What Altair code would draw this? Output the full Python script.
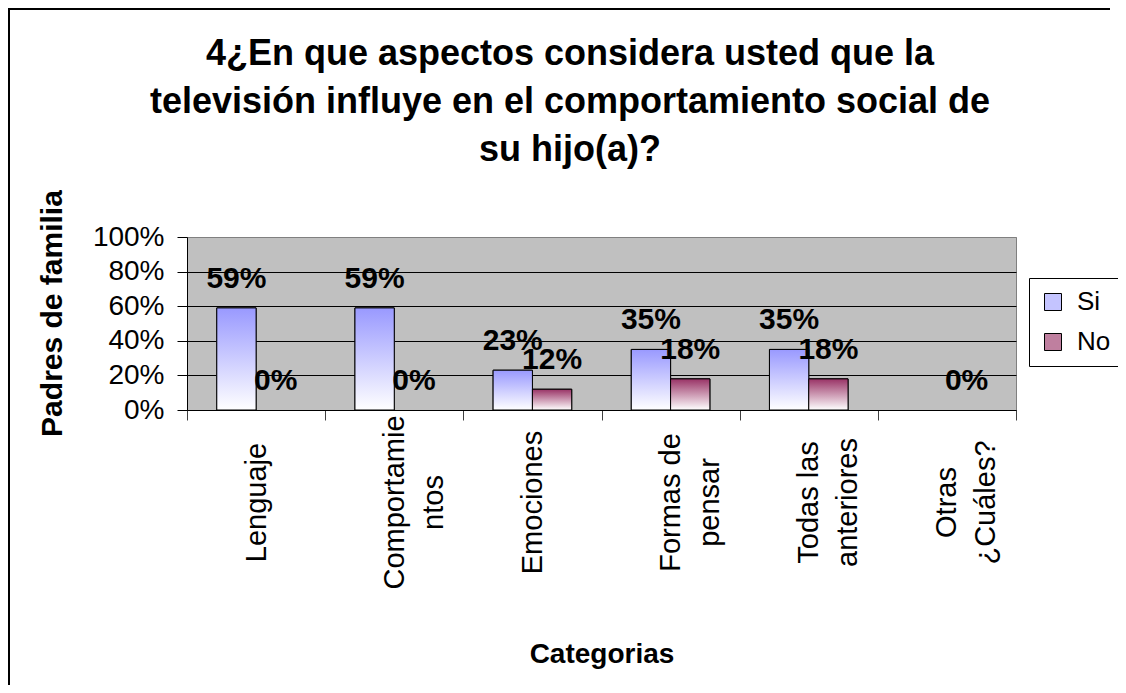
import altair as alt
import pandas as pd

# ---- data ----
categorias = [
    "Lenguaje",
    "Comportamie\nntos",
    "Emociones",
    "Formas de\npensar",
    "Todas las\nanteriores",
    "Otras\n¿Cuáles?",
]
series = ["Si", "No"]
si_vals = [0.59, 0.59, 0.23, 0.35, 0.35, None]
no_vals = [0.00, 0.00, 0.12, 0.18, 0.18, 0.00]
titulo = [
    "4¿En que aspectos considera usted que la",
    "televisión influye en el comportamiento social de",
    "su hijo(a)?",
]
y_ticks = [0, 0.2, 0.4, 0.6, 0.8, 1.0]

rows = []
for c, s, n in zip(categorias, si_vals, no_vals):
    rows.append({"categoria": c, "serie": "Si", "valor": s})
    rows.append({"categoria": c, "serie": "No", "valor": n})
df = pd.DataFrame(rows)

FONT = "Liberation Sans"

x_enc = alt.X(
    "categoria:N",
    sort=categorias,
    scale=alt.Scale(paddingInner=0, paddingOuter=0),
    axis=alt.Axis(
        title="Categorias",
        titleFont=FONT,
        titleFontSize=28,
        titleFontWeight="bold",
        titleColor="black",
        titleBaseline="alphabetic",
        titleY=252,
        labelExpr="split(datum.label, '\\n')",
        labelAngle=270,
        labelAlign="center",
        labelBaseline="middle",
        labelFont=FONT,
        labelFontSize=29,
        labelLineHeight=39,
        labelPadding=82,
        labelColor="black",
        labelOverlap=False,
        labelBound=False,
        tickBand="extent",
        tickSize=10,
        tickColor="#404040",
        domainColor="black",
        grid=False,
    ),
)
xoff_enc = alt.XOffset(
    "serie:N",
    sort=series,
    scale=alt.Scale(domain=series, paddingInner=0, paddingOuter=0.758),
)
y_enc = alt.Y(
    "valor:Q",
    scale=alt.Scale(domain=[0, 1]),
    axis=alt.Axis(
        values=y_ticks,
        format=".0%",
        labelFont=FONT,
        labelFontSize=28,
        labelColor="black",
        labelPadding=13,
        tickSize=10,
        tickColor="black",
        domainColor="black",
        grid=True,
        gridColor={"condition": {"test": "datum.value >= 1", "value": "#808080"}, "value": "#000000"},
        title="Padres de familia",
        titleFont=FONT,
        titleFontSize=30,
        titleFontWeight="bold",
        titleColor="black",
        titleAngle=270,
        titleAlign="center",
        titleBaseline="alphabetic",
        titleX=-126,
        titleY=76,
    ),
)

base = alt.Chart(df).transform_filter("isValid(datum.valor)")
bars_base = base.transform_filter("datum.valor > 0")

legend_bars = bars_base.mark_bar(stroke="black", strokeWidth=1).encode(
    x=x_enc,
    xOffset=xoff_enc,
    y=y_enc,
    color=alt.Color(
        "serie:N",
        sort=series,
        scale=alt.Scale(domain=series, range=["#C4C4FF", "#BF7F9F"]),
        legend=alt.Legend(
            orient="none",
            legendX=842,
            legendY=41,
            title=None,
            symbolType="square",
            symbolSize=289,
            symbolStrokeColor="black",
            symbolStrokeWidth=1,
            labelFont=FONT,
            labelFontSize=26,
            labelColor="black",
            labelOffset=11,
            padding=11,
            rowPadding=14,
            strokeColor="black",
            fillColor="white",
        ),
    ),
)

grad_si = alt.LinearGradient(
    gradient="linear",
    stops=[alt.GradientStop(offset=0, color="#9999FF"), alt.GradientStop(offset=1, color="#FFFFFF")],
    x1=0, x2=0, y1=0, y2=1,
)
grad_no = alt.LinearGradient(
    gradient="linear",
    stops=[alt.GradientStop(offset=0, color="#993366"), alt.GradientStop(offset=1, color="#FFFFFF")],
    x1=0, x2=0, y1=0, y2=1,
)

si_bars = bars_base.transform_filter("datum.serie == 'Si'").mark_bar(
    fill=grad_si, stroke="black", strokeWidth=1
).encode(x=x_enc, xOffset=xoff_enc, y=y_enc)

no_bars = bars_base.transform_filter("datum.serie == 'No'").mark_bar(
    fill=grad_no, stroke="black", strokeWidth=1
).encode(x=x_enc, xOffset=xoff_enc, y=y_enc)

labels = base.mark_text(
    dy=-20, baseline="alphabetic", align="center", font=FONT, fontSize=30,
    fontWeight="bold", color="black",
).encode(
    x=x_enc, xOffset=xoff_enc, y=y_enc,
    text=alt.Text("valor:Q", format=".0%"),
)

one = alt.Data(values=[{}])
title_mark = alt.Chart(one).mark_text(
    text=titulo, font=FONT, fontSize=36, fontWeight="bold", lineHeight=48,
    align="center", baseline="alphabetic", color="black",
).encode(x=alt.value(383), y=alt.value(-172))

border_left = alt.Chart(one).mark_rule(color="black", strokeWidth=2).encode(
    x=alt.value(-178), y=alt.value(-229), y2=alt.value(448)
)
border_top = alt.Chart(one).mark_rule(color="black", strokeWidth=2).encode(
    x=alt.value(-179), x2=alt.value(923), y=alt.value(-228)
)

chart = alt.layer(
    legend_bars, si_bars, no_bars, labels, title_mark, border_left, border_top
).properties(
    width=829,
    height=173,
    padding={"left": 179, "top": 229, "right": 102, "bottom": 275},
    autosize=alt.AutoSizeParams(type="none"),
    background="white",
).configure(font=FONT).configure_view(
    fill="#C0C0C0", stroke="#808080", strokeWidth=1
)

chart.save("out.html", embed_options={"renderer": "svg", "actions": False})
